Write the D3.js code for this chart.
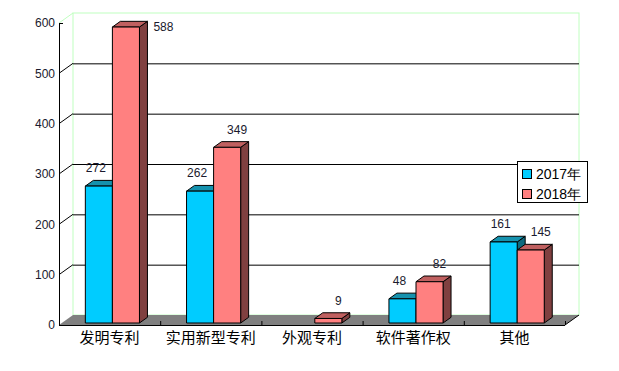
<!DOCTYPE html>
<html>
<head>
<meta charset="utf-8">
<script src="https://cdn.jsdelivr.net/npm/d3@7"></script>
<style>
  body { margin: 0; background: #fff; }
  svg { display: block; }
</style>
</head>
<body>
<svg id="chart"></svg>
<script>
// Chart data
const categories = ["发明专利", "实用新型专利", "外观专利", "软件著作权", "其他"];
const seriesNames = ["2017年", "2018年"];
const values2017 = [272, 262, 0, 48, 161];
const values2018 = [588, 349, 9, 82, 145];
const yTicks = [0, 100, 200, 300, 400, 500, 600];

const width = 619;
const height = 371;

// front plane of the 3d box
const plot = { left: 59, right: 565, top: 23, bottom: 325 };
// depth offset of the back wall
const depth = { dx: 14, dy: -10 };

const faceColors = [
	{ front: "#00CCFF", top: "#1592AE", side: "#0E6B80" },
	{ front: "#FF8080", top: "#C06060", side: "#804040" },
];

const svg = d3.select("#chart").attr("width", width).attr("height", height);

const x0 = d3.scaleBand().domain(categories).range([plot.left, plot.right]);
const x1 = d3
	.scaleBand()
	.domain(seriesNames)
	.range([0, x0.bandwidth()])
	.paddingOuter(0.87);
const y = d3.scaleLinear().domain([0, 600]).range([plot.bottom, plot.top]);

// project a front-plane point to a depth fraction z (0 front, 1 back)
function proj(px, py, z) {
	return [px + depth.dx * z, py + depth.dy * z];
}
const pts = (arr) => arr.map((p) => p.join(",")).join(" ");

// back wall
const wallTop = y(600) + depth.dy;
const wallLeft = plot.left + depth.dx;
const wallRight = plot.right + depth.dx;
const wallBottom = plot.bottom + depth.dy;

svg
	.append("rect")
	.attr("x", wallLeft)
	.attr("y", wallTop)
	.attr("width", wallRight - wallLeft)
	.attr("height", wallBottom - wallTop)
	.attr("fill", "#fff")
	.attr("stroke", "#C0FFC0");

svg
	.append("line")
	.attr("x1", plot.left)
	.attr("y1", plot.top)
	.attr("x2", wallLeft)
	.attr("y2", wallTop)
	.attr("stroke", "#C0FFC0");

// gridlines on back wall + diagonal links to axis
yTicks.slice(1, -1).forEach((t) => {
	svg
		.append("line")
		.attr("x1", wallLeft)
		.attr("x2", wallRight)
		.attr("y1", y(t) + depth.dy + 0.5)
		.attr("y2", y(t) + depth.dy + 0.5)
		.attr("stroke", "#000");
	svg
		.append("line")
		.attr("x1", plot.left)
		.attr("y1", y(t))
		.attr("x2", wallLeft)
		.attr("y2", y(t) + depth.dy)
		.attr("stroke", "#000");
});

// floor
svg
	.append("polygon")
	.attr(
		"points",
		pts([
			[plot.left, plot.bottom],
			[plot.right, plot.bottom],
			[wallRight, wallBottom],
			[wallLeft, wallBottom],
		])
	)
	.attr("fill", "#808080");

svg
	.append("line")
	.attr("x1", plot.right)
	.attr("y1", plot.bottom)
	.attr("x2", wallRight)
	.attr("y2", wallBottom)
	.attr("stroke", "#000");

// category ticks on floor edge
categories.slice(1).forEach((c) => {
	svg
		.append("line")
		.attr("x1", x0(c) + 0.5)
		.attr("x2", x0(c) + 0.5)
		.attr("y1", plot.bottom)
		.attr("y2", plot.bottom - 4)
		.attr("stroke", "#000");
});
svg
	.append("line")
	.attr("x1", plot.right + 0.5)
	.attr("x2", plot.right + 0.5)
	.attr("y1", plot.bottom)
	.attr("y2", plot.bottom - 4)
	.attr("stroke", "#000");

// axes lines
svg
	.append("line")
	.attr("x1", plot.left + 0.5)
	.attr("x2", plot.left + 0.5)
	.attr("y1", plot.top)
	.attr("y2", plot.bottom)
	.attr("stroke", "#000");
svg
	.append("line")
	.attr("x1", plot.left)
	.attr("x2", plot.right)
	.attr("y1", plot.bottom + 0.5)
	.attr("y2", plot.bottom + 0.5)
	.attr("stroke", "#000");
svg
	.append("line")
	.attr("x1", plot.left)
	.attr("x2", plot.left + 4)
	.attr("y1", plot.top + 0.5)
	.attr("y2", plot.top + 0.5)
	.attr("stroke", "#000");

// y tick labels
svg
	.selectAll(".ytick")
	.data(yTicks)
	.join("text")
	.attr("class", "ytick")
	.attr("x", plot.left - 4)
	.attr("y", (d) => y(d))
	.attr("dy", "0.35em")
	.attr("text-anchor", "end")
	.attr("font-family", "Liberation Sans, Arial, sans-serif")
	.attr("font-size", 12)
	.attr("fill", "#1a1a2e")
	.text((d) => d);

// category labels
svg
	.selectAll(".xlabel")
	.data(categories)
	.join("text")
	.attr("class", "xlabel")
	.attr("x", (d) => x0(d) + x0.bandwidth() / 2)
	.attr("y", 338)
	.attr("dy", "0.35em")
	.attr("text-anchor", "middle")
	.attr("font-family", "Noto Sans CJK SC, sans-serif")
	.attr("font-size", 15)
	.attr("fill", "#000")
	.text((d) => d);

// bars
const barZ0 = 0.2;
const barZ1 = 0.77;
const series = [values2017, values2018];

categories.forEach((cat, i) => {
	seriesNames.forEach((s, j) => {
		const v = series[j][i];
		if (v <= 0) return;
		const xl = x0(cat) + x1(s);
		const xr = xl + x1.bandwidth();
		const yt = y(v);
		const yb = y(0);
		const c = faceColors[j];
		const g = svg.append("g").attr("stroke", "#000").attr("stroke-linejoin", "round");

		const fl = proj(xl, yt, barZ0), fr = proj(xr, yt, barZ0);
		const bl = proj(xl, yt, barZ1), br = proj(xr, yt, barZ1);
		const frb = proj(xr, yb, barZ0), brb = proj(xr, yb, barZ1);
		const flb = proj(xl, yb, barZ0);

		// side face
		g.append("polygon").attr("points", pts([fr, br, brb, frb])).attr("fill", c.side);
		// top face
		g.append("polygon").attr("points", pts([fl, fr, br, bl])).attr("fill", c.top);
		// front face
		g.append("polygon").attr("points", pts([fl, fr, frb, flb])).attr("fill", c.front);

		// value label
		let lx = (xl + xr) / 2 + (j === 0 ? -3 : 10) + depth.dx * barZ0;
		let ly = fl[1] - 18;
		let anchor = "middle";
		if (ly < wallTop + 6) {
			lx = br[0] + 6;
			ly = fl[1];
			anchor = "start";
		}
		svg
			.append("text")
			.attr("x", lx)
			.attr("y", ly)
			.attr("dy", "0.35em")
			.attr("text-anchor", anchor)
			.attr("font-family", "Liberation Sans, Arial, sans-serif")
			.attr("font-size", 12)
			.attr("fill", "#1a1a2e")
			.text(v);
	});
});

// legend
const legend = svg.append("g").attr("transform", "translate(517,161)");
legend
	.append("rect")
	.attr("x", 0.5)
	.attr("y", 0.5)
	.attr("width", 70)
	.attr("height", 41)
	.attr("fill", "#fff")
	.attr("stroke", "#000");

seriesNames.forEach((s, j) => {
	legend
		.append("rect")
		.attr("x", 5.5)
		.attr("y", 8.5 + j * 20)
		.attr("width", 9)
		.attr("height", 9)
		.attr("fill", faceColors[j].front)
		.attr("stroke", "#000");
	legend
		.append("text")
		.attr("x", 19)
		.attr("y", 13 + j * 20)
		.attr("dy", "0.35em")
		.attr("font-family", "Liberation Sans, Arial, sans-serif")
		.attr("font-size", 14)
		.attr("fill", "#000")
		.text(s);
});
</script>
</body>
</html>
